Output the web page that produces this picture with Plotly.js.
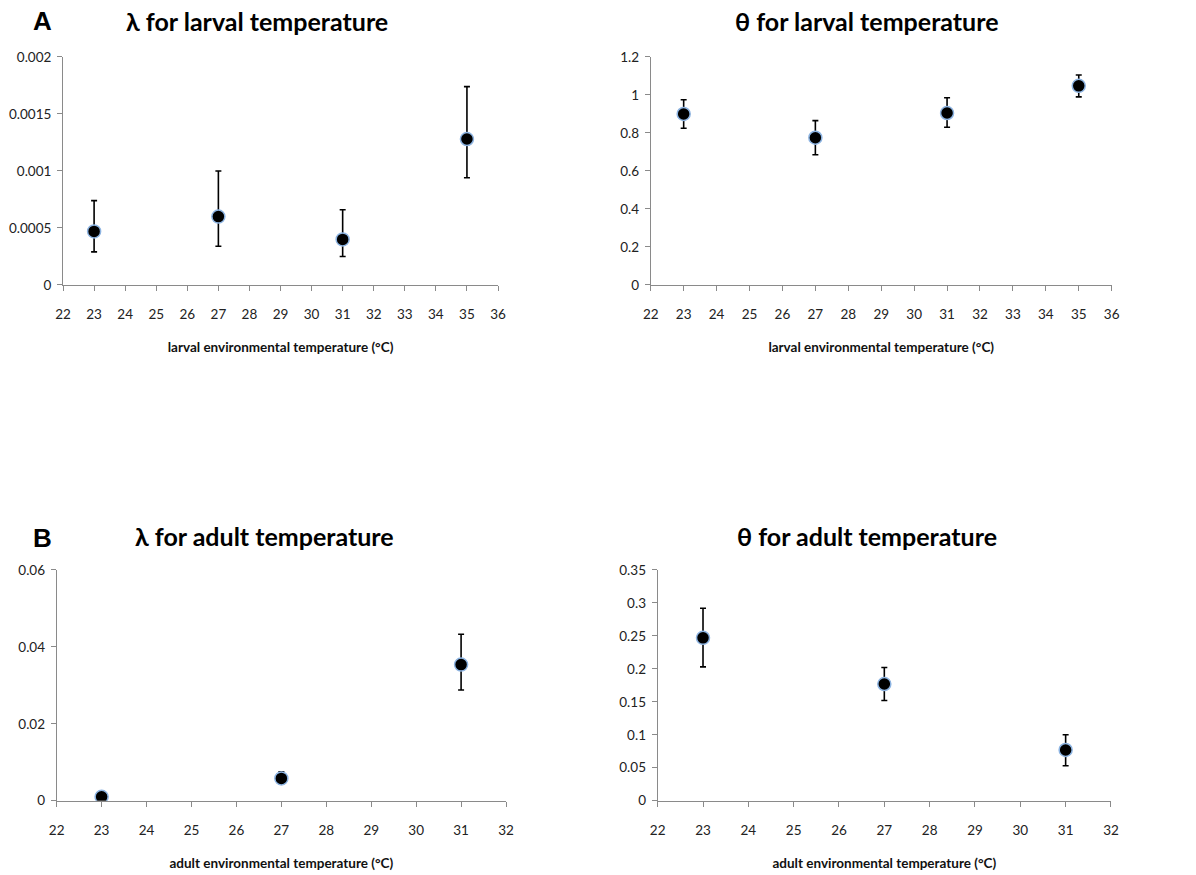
<!DOCTYPE html>
<html>
<head>
<meta charset="utf-8">
<script src="https://cdn.plot.ly/plotly-3.0.1.min.js"></script>
<style>html,body{margin:0;padding:0;background:#fff;}#chart{width:1196px;height:875px;}</style>
</head>
<body>
<div id="chart"></div>
<script>
// ---- data ----
const larvalTemps = [23, 27, 31, 35];
const adultTemps = [23, 27, 31];

const lambdaLarval = [0.00047, 0.0006, 0.0004, 0.00128];
const lambdaLarvalErrPlus = [0.00027, 0.0004, 0.00026, 0.00046];
const lambdaLarvalErrMinus = [0.00018, 0.00026, 0.00015, 0.00034];

const thetaLarval = [0.9, 0.775, 0.905, 1.048];
const thetaLarvalErrPlus = [0.075, 0.09, 0.08, 0.057];
const thetaLarvalErrMinus = [0.075, 0.09, 0.075, 0.058];

const lambdaAdult = [0.001, 0.0058, 0.0354];
const lambdaAdultErrPlus = [0.0004, 0.0017, 0.0079];
const lambdaAdultErrMinus = [0.0004, 0.0013, 0.0066];

const thetaAdult = [0.247, 0.177, 0.077];
const thetaAdultErrPlus = [0.045, 0.025, 0.023];
const thetaAdultErrMinus = [0.044, 0.025, 0.024];

const yTicksLambdaLarval = [0, 0.0005, 0.001, 0.0015, 0.002];
const yTextLambdaLarval = ['0', '0.0005', '0.001', '0.0015', '0.002'];
const yTicksThetaLarval = [0, 0.2, 0.4, 0.6, 0.8, 1, 1.2];
const yTextThetaLarval = ['0', '0.2', '0.4', '0.6', '0.8', '1', '1.2'];
const yTicksLambdaAdult = [0, 0.02, 0.04, 0.06];
const yTextLambdaAdult = ['0', '0.02', '0.04', '0.06'];
const yTicksThetaAdult = [0, 0.05, 0.1, 0.15, 0.2, 0.25, 0.3, 0.35];
const yTextThetaAdult = ['0', '0.05', '0.1', '0.15', '0.2', '0.25', '0.3', '0.35'];

const panelTitles = ['λ for larval temperature', 'θ for larval temperature', 'λ for adult temperature', 'θ for adult temperature'];
const xTitles = ['larval environmental temperature (°C)', 'larval environmental temperature (°C)', 'adult environmental temperature (°C)', 'adult environmental temperature (°C)'];
const panelLetters = ['A', 'B'];

// ---- style ----
const FONT = 'Lato, "Open Sans", sans-serif';
const axisGray = '#8a8a8a';
const marker = {size: 13, color: '#000', line: {color: '#8db4e2', width: 1.5}};

function trace(x, y, ep, em, xa, ya) {
  return {
    type: 'scatter', mode: 'markers', x: x, y: y, xaxis: xa, yaxis: ya,
    marker: marker, showlegend: false, hoverinfo: 'x+y',
    error_y: {type: 'data', symmetric: false, array: ep, arrayminus: em,
              color: '#000', thickness: 1.6, width: 3}
  };
}

const data = [
  trace(larvalTemps, lambdaLarval, lambdaLarvalErrPlus, lambdaLarvalErrMinus, 'x', 'y'),
  trace(larvalTemps, thetaLarval, thetaLarvalErrPlus, thetaLarvalErrMinus, 'x2', 'y2'),
  trace(adultTemps, lambdaAdult, lambdaAdultErrPlus, lambdaAdultErrMinus, 'x3', 'y3'),
  trace(adultTemps, thetaAdult, thetaAdultErrPlus, thetaAdultErrMinus, 'x4', 'y4')
];

function xax(domain, range, anchor, title) {
  return {
    domain: domain, range: range, anchor: anchor, dtick: 1, tick0: 22,
    showgrid: false, zeroline: false, showline: true, linecolor: axisGray, linewidth: 1,
    ticks: 'outside', ticklen: 5, tickcolor: axisGray, tickwidth: 1,
    ticklabelstandoff: 12,
    tickfont: {family: FONT, size: 13.5, color: '#222'},
    title: {text: title, standoff: 21, font: {family: FONT, size: 13.5, color: '#111', weight: 'bold'}},
    fixedrange: true
  };
}
function yax(domain, range, anchor, vals, text) {
  return {
    domain: domain, range: range, anchor: anchor,
    tickmode: 'array', tickvals: vals, ticktext: text,
    showgrid: false, zeroline: false, showline: true, linecolor: axisGray, linewidth: 1,
    ticks: 'outside', ticklen: 5, tickcolor: axisGray, tickwidth: 1,
    ticklabelstandoff: 3,
    tickfont: {family: FONT, size: 13.5, color: '#222'},
    fixedrange: true
  };
}

const yTop = [0.6743, 0.9349];
const yBot = [0.0849, 0.3486];

const titleFont = {family: FONT, size: 25, color: '#000', weight: 'bold'};
const letterFont = {family: 'Liberation Sans, Arial, sans-serif', size: 26, color: '#000', weight: 'bold'};

const layout = {
  width: 1196, height: 875,
  margin: {l: 0, r: 0, t: 0, b: 0},
  paper_bgcolor: '#fff', plot_bgcolor: '#fff',
  showlegend: false,
  xaxis: xax([0.0527, 0.4164], [22, 36], 'y', xTitles[0]),
  yaxis: yax(yTop, [0, 0.002], 'x', yTicksLambdaLarval, yTextLambdaLarval),
  xaxis2: xax([0.5441, 0.9295], [22, 36], 'y2', xTitles[1]),
  yaxis2: yax(yTop, [0, 1.2], 'x2', yTicksThetaLarval, yTextThetaLarval),
  xaxis3: xax([0.0474, 0.4231], [22, 32], 'y3', xTitles[2]),
  yaxis3: yax(yBot, [0, 0.06], 'x3', yTicksLambdaAdult, yTextLambdaAdult),
  xaxis4: xax([0.5499, 0.9289], [22, 32], 'y4', xTitles[3]),
  yaxis4: yax(yBot, [0, 0.35], 'x4', yTicksThetaAdult, yTextThetaAdult),
  annotations: [
    {text: panelTitles[0], x: 257 / 1196, y: 1 - 21 / 875, xref: 'paper', yref: 'paper', showarrow: false, xanchor: 'center', yanchor: 'middle', font: titleFont},
    {text: panelTitles[1], x: 867 / 1196, y: 1 - 21 / 875, xref: 'paper', yref: 'paper', showarrow: false, xanchor: 'center', yanchor: 'middle', font: titleFont},
    {text: panelTitles[2], x: 264 / 1196, y: 1 - 536 / 875, xref: 'paper', yref: 'paper', showarrow: false, xanchor: 'center', yanchor: 'middle', font: titleFont},
    {text: panelTitles[3], x: 867 / 1196, y: 1 - 536 / 875, xref: 'paper', yref: 'paper', showarrow: false, xanchor: 'center', yanchor: 'middle', font: titleFont},
    {text: panelLetters[0], x: 42 / 1196, y: 1 - 21 / 875, xref: 'paper', yref: 'paper', showarrow: false, xanchor: 'center', yanchor: 'middle', font: letterFont},
    {text: panelLetters[1], x: 42 / 1196, y: 1 - 538 / 875, xref: 'paper', yref: 'paper', showarrow: false, xanchor: 'center', yanchor: 'middle', font: letterFont}
  ]
};

Plotly.newPlot('chart', data, layout, {displayModeBar: false, staticPlot: true});
</script>
</body>
</html>
